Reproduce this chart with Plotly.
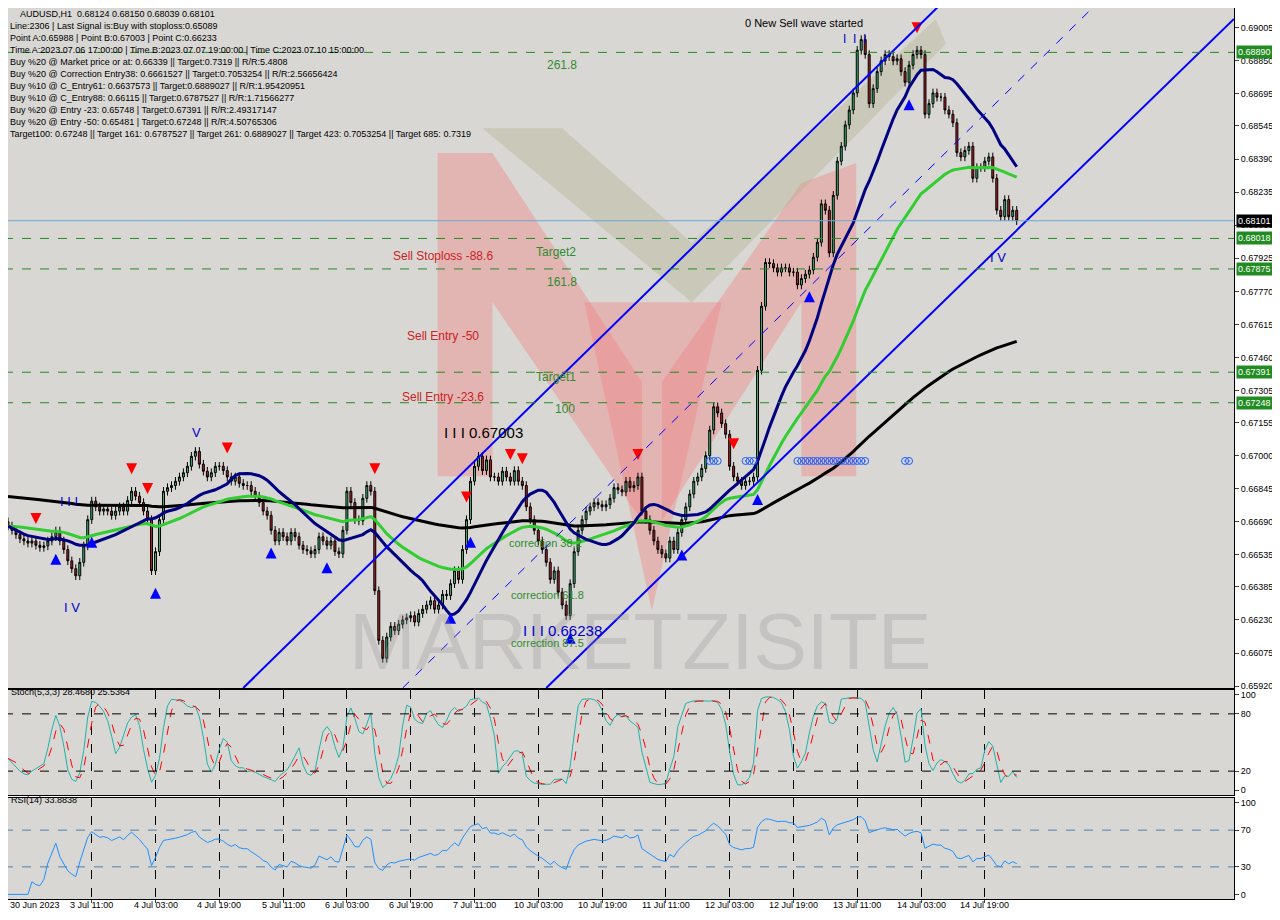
import numpy as np, pandas as pd
import plotly.graph_objects as go
from plotly.subplots import make_subplots

closes_k = [
66670,66650,66630,66610,66600,66590,66600,66580,66570,66577,
66600,66620,66647,66600,66560,66507,66470,66437,66500,66577,
66700,66787,66760,66740,66750,66740,66720,66740,66760,66740,
66790,66833,66810,66780,66740,66700,66461,66550,66700,66833,
66850,66860,66880,66900,66920,66950,66997,67020,66960,66927,
66900,66920,66950,66950,66930,66900,66880,66900,66870,66860,
66860,66833,66810,66780,66740,66720,66650,66600,66640,66620,
66600,66640,66620,66580,66560,66554,66540,66560,66620,66600,
66580,66600,66550,66540,66650,66833,66780,66700,66694,66800,
66860,66833,66367,66134,66050,66150,66200,66180,66210,66230,
66240,66250,66220,66260,66280,66300,66320,66280,66300,66350,
66344,66400,66461,66420,66560,66700,66880,66950,66997,66930,
66980,66900,66900,66880,66927,66900,66880,66930,66880,66860,
66760,66700,66650,66600,66560,66500,66420,66460,66360,66300,
66250,66400,66550,66650,66700,66740,66760,66780,66770,66760,
66770,66800,66850,66840,66830,66880,66850,66860,66900,66740,
66700,66650,66600,66560,66540,66520,66600,66560,66640,66700,
66760,66820,66880,66900,66940,67000,67120,67229,67200,67150,
67100,66950,66900,66880,66860,66880,66880,66900,67400,67700,
67905,67900,67880,67860,67880,67880,67860,67860,67800,67830,
67850,67870,67930,68000,68180,68150,67950,68220,68380,68450,
68550,68620,68700,68900,68950,68880,68650,68720,68800,68850,
68880,68870,68850,68860,68800,68750,68830,68880,68900,68880,
68600,68650,68700,68680,68680,68620,68600,68560,68420,68400,
68430,68450,68300,68350,68350,68380,68400,68300,68150,68120,
68200,68120,68150,68101]
first_open = 0.66690
wick = 0.00020
ma_seed = 0.66810

close = np.array(closes_k) / 1e5
opn = np.concatenate([[first_open], close[:-1]])
high = np.maximum(opn, close) + wick
low = np.minimum(opn, close) - wick
n = len(close)
idx = np.arange(n)

tick_idx = [0, 21, 37, 53, 69, 85, 101, 117, 133, 149, 165, 181, 197, 213, 229, 245]
tick_txt = ["30 Jun 2023", "3 Jul 11:00", "4 Jul 03:00", "4 Jul 19:00", "5 Jul 11:00", "6 Jul 03:00",
            "6 Jul 19:00", "7 Jul 11:00", "10 Jul 03:00", "10 Jul 19:00", "11 Jul 11:00", "12 Jul 03:00",
            "12 Jul 19:00", "13 Jul 11:00", "14 Jul 03:00", "14 Jul 19:00"]
price_ticks = [0.69005, 0.68850, 0.68695, 0.68545, 0.68390, 0.68235, 0.68080, 0.67925, 0.67770, 0.67615,
               0.67460, 0.67305, 0.67155, 0.67000, 0.66845, 0.66690, 0.66535, 0.66385, 0.66230, 0.66075, 0.65920]
levels = [0.68890, 0.68018, 0.67875, 0.67391, 0.67248]
last_price = 0.68101

s = pd.Series(close)
navy = s.rolling(20, min_periods=1).mean()
green = s.ewm(span=50, adjust=False).mean()
black = pd.Series(np.concatenate([[ma_seed], close])).ewm(span=200, adjust=False).mean().iloc[1:].values
hh = pd.Series(high).rolling(5, min_periods=1).max(); ll = pd.Series(low).rolling(5, min_periods=1).min()
k = 100 * (s - ll).rolling(3, min_periods=1).sum() / (hh - ll).rolling(3, min_periods=1).sum()
d = k.rolling(3, min_periods=1).mean()
delta = s.diff().fillna(0)
up = delta.clip(lower=0).ewm(alpha=1/14, adjust=False).mean()
dn = (-delta.clip(upper=0)).ewm(alpha=1/14, adjust=False).mean()
rsi = 100 - 100 / (1 + up / dn.replace(0, 1e-9))

W, H, OFF = 1264, 904, 8
def fx(px): return (px - OFF) / W
def fy(py): return min(1.0, max(0.0, 1 - (py - OFF) / H))

X0, X1 = -1, 307.5
Y0, Y1 = 0.65911, 0.69098
def P(px, py):
    return (px - 4) / 4, 0.69005 - (py - 24) * 4.66e-5
def poly(pts):
    c = [P(a, b) for a, b in pts]
    return "M " + " L ".join(f"{x:.2f} {y:.5f}" for x, y in c) + " Z"

fig = make_subplots(rows=3, cols=1, shared_xaxes=True)
fig.add_trace(go.Candlestick(x=idx, open=opn, high=high, low=low, close=close,
    increasing=dict(line=dict(color="#000000", width=1), fillcolor="#3cb371"),
    decreasing=dict(line=dict(color="#000000", width=1), fillcolor="#b22222"),
    whiskerwidth=0, showlegend=False), 1, 1)
fig.add_trace(go.Scatter(x=idx, y=black, mode="lines", line=dict(color="#000000", width=3)), 1, 1)
fig.add_trace(go.Scatter(x=idx, y=green, mode="lines", line=dict(color="#32cd32", width=3)), 1, 1)
fig.add_trace(go.Scatter(x=idx, y=navy, mode="lines", line=dict(color="#000080", width=3)), 1, 1)
fig.add_trace(go.Scatter(x=idx, y=k, mode="lines", line=dict(color="#20b2aa", width=1)), 2, 1)
fig.add_trace(go.Scatter(x=idx, y=d, mode="lines", line=dict(color="#ff0000", width=1, dash="dash")), 2, 1)
fig.add_trace(go.Scatter(x=idx, y=rsi, mode="lines", line=dict(color="#1e90ff", width=1)), 3, 1)

fig.update_layout(width=W, height=H, margin=dict(l=0, r=0, t=0, b=0, autoexpand=False),
    paper_bgcolor="#ffffff", plot_bgcolor="#d9d7d4", showlegend=False,
    font=dict(family="Liberation Sans, Arial", size=10, color="#000"))
for r, dom in [(1, [fy(688), fy(4)]), (2, [fy(795), fy(690)]), (3, [fy(899), fy(798)])]:
    fig.update_yaxes(row=r, col=1, domain=dom, side="right", showgrid=False, zeroline=False, automargin=False,
                     showline=True, linecolor="#000", mirror=True, ticks="outside", ticklen=4,
                     tickfont=dict(size=9))
    fig.update_xaxes(row=r, col=1, domain=[fx(8), fx(1234)], range=[X0 + 1, X1], showline=True, linecolor="#000",
                     mirror=True, rangeslider=dict(visible=False), zeroline=False, automargin=False,
                     tickvals=tick_idx[1:], showticklabels=False,
                     showgrid=(r != 1), griddash="dash", gridcolor="#000", gridwidth=1,
                     ticks=("outside" if r == 3 else ""), ticklen=3)
fig.update_yaxes(row=1, col=1, range=[Y0, Y1], tickvals=price_ticks, ticktext=[f"{v:.5f}" for v in price_ticks])
fig.update_yaxes(row=2, col=1, range=[-5, 105], tickvals=[0, 20, 80, 100])
fig.update_yaxes(row=3, col=1, range=[-5, 105], tickvals=[0, 30, 70, 100])
for ti, tt in zip(tick_idx, tick_txt):
    fig.add_annotation(x=ti, xref="x3", y=0, yref="paper", yanchor="bottom", xanchor=("left" if ti == 0 else "center"),
                       text=tt, showarrow=False, font=dict(size=9))

pink = "rgba(240,130,130,0.40)"
fig.add_shape(type="path", path=poly([(435, 150), (490, 150), (640, 380), (640, 520), (490, 300), (490, 475), (435, 475)]),
              fillcolor=pink, line_width=0, layer="below")
fig.add_shape(type="path", path=poly([(582, 300), (720, 300), (650, 610)]), fillcolor=pink, line_width=0, layer="below")
fig.add_shape(type="path", path=poly([(855, 160), (855, 475), (800, 475), (800, 300), (660, 520), (660, 380), (800, 180)]),
              fillcolor=pink, line_width=0, layer="below")
fig.add_shape(type="path", path=poly([(480, 125), (560, 125), (690, 240), (935, 15), (945, 40), (690, 300)]),
              fillcolor="rgba(175,175,135,0.35)", line_width=0, layer="below")
fig.add_annotation(x=fx(640), y=fy(688), xref="paper", yref="paper", yanchor="bottom", text="MARKETZISITE", showarrow=False,
                   font=dict(size=80, color="rgba(150,150,150,0.30)", family="Liberation Sans"))

fig.add_shape(type="line", x0=59, y0=0.65911, x1=234, y1=0.69117, line=dict(color="#0000ff", width=2))
fig.add_shape(type="line", x0=135, y0=0.65911, x1=307.5, y1=0.69047, line=dict(color="#0000ff", width=2))
fig.add_shape(type="line", x0=99, y0=0.65911, x1=273, y1=0.69117, line=dict(color="#0000ff", width=1, dash="dash"))
for lv in levels:
    fig.add_shape(type="line", x0=X0, x1=X1, y0=lv, y1=lv, line=dict(color="#228b22", width=1, dash="dash"))
    fig.add_annotation(x=fx(1236), y=lv, xref="paper", yref="y", xanchor="left", text=f"{lv:.5f}", showarrow=False,
                       bgcolor="#228b22", font=dict(color="#ffffff", size=9), borderpad=1)
fig.add_shape(type="line", x0=X0, x1=X1, y0=last_price, y1=last_price, line=dict(color="#6aa8d8", width=1))
fig.add_annotation(x=fx(1236), y=last_price, xref="paper", yref="y", xanchor="left", text=f"{last_price:.5f}", showarrow=False,
                   bgcolor="#000000", font=dict(color="#ffffff", size=9), borderpad=1)
for lv in [80, 20]:
    fig.add_shape(type="line", x0=X0, x1=X1, y0=lv, y1=lv, line=dict(color="#000", width=1, dash="dash"), xref="x", yref="y2")
for lv in [70, 30]:
    fig.add_shape(type="line", x0=X0, x1=X1, y0=lv, y1=lv, line=dict(color="#4682b4", width=1, dash="dash"), xref="x", yref="y3")

red_i = [7, 31, 35, 55, 92, 115, 126, 129, 158, 182, 228]
blue_i = [12, 21, 37, 66, 80, 111, 116, 141, 169, 188, 201, 226]
fig.add_trace(go.Scatter(x=red_i, y=high[red_i] + 0.0006, mode="markers",
    marker=dict(symbol="arrow-down", size=11, color="#ff0000")), 1, 1)
fig.add_trace(go.Scatter(x=blue_i, y=low[blue_i] - 0.0006, mode="markers",
    marker=dict(symbol="arrow-up", size=11, color="#0000ff")), 1, 1)
circ_i = [176, 177, 178, 185, 186, 187] + list(range(198, 216)) + [225, 226]
fig.add_trace(go.Scatter(x=circ_i, y=[0.66975] * len(circ_i), mode="markers",
    marker=dict(symbol="circle-dot", size=7, color="rgba(0,0,0,0)", line=dict(color="#1e5eff", width=1))), 1, 1)

header = ["AUDUSD,H1  0.68124 0.68150 0.68039 0.68101",
 "Line:2306 | Last Signal is:Buy with stoploss:0.65089",
 "Point A:0.65988 | Point B:0.67003 | Point C:0.66233",
 "Time A:2023.07.06 17:00:00 | Time B:2023.07.07 19:00:00 | Time C:2023.07.10 15:00:00",
 "Buy %20 @ Market price or at: 0.66339 || Target:0.7319 || R/R:5.4808",
 "Buy %20 @ Correction Entry38: 0.6661527 || Target:0.7053254 || R/R:2.56656424",
 "Buy %10 @ C_Entry61: 0.6637573 || Target:0.6889027 || R/R:1.95420951",
 "Buy %10 @ C_Entry88: 0.66115 || Target:0.6787527 || R/R:1.71566277",
 "Buy %20 @ Entry -23: 0.65748 | Target:0.67391 || R/R:2.49317147",
 "Buy %20 @ Entry -50: 0.65481 | Target:0.67248 || R/R:4.50765306",
 "Target100: 0.67248 || Target 161: 0.6787527 || Target 261: 0.6889027 || Target 423: 0.7053254 || Target 685: 0.7319"]
for j, t in enumerate(header):
    fig.add_annotation(x=fx(18 if j == 0 else 8), y=fy(14 + 12 * j), xref="paper", yref="paper",
                       xanchor="left", yanchor="middle", text=t, showarrow=False, font=dict(size=9, color="#000"))

def lab(px, py, t, c, sz=12):
    fig.add_annotation(x=fx(px), y=fy(py), xref="paper", yref="paper", text=t, showarrow=False,
                       font=dict(size=sz, color=c))
lab(865, 15, "0 New Sell wave started", "#000", 11)
lab(868, 30, "I  I  I", "#0000cc", 12)
lab(562, 56, "261.8", "#2e8b2e")
lab(556, 243, "Target2", "#2e8b2e")
lab(562, 273, "161.8", "#2e8b2e")
lab(443, 247, "Sell Stoploss -88.6", "#cc2222")
lab(443, 336, "Sell Entry -50", "#cc2222")
lab(556, 377, "Target1", "#2e8b2e")
lab(443, 397, "Sell Entry -23.6", "#cc2222")
lab(565, 409, "100", "#2e8b2e")
lab(483, 432, "I I I 0.67003", "#000", 15)
lab(545, 543, "correction 38.2", "#2e8b2e", 11)
lab(547, 595, "correction 61.8", "#2e8b2e", 11)
lab(562, 641, "I I I 0.66238", "#0000cc", 15)
lab(547, 651, "correction 87.5", "#2e8b2e", 11)
lab(62, 607, "I V", "#0000cc", 13)
lab(58, 501, "I I I", "#0000cc", 13)
lab(190, 432, "V", "#0000cc", 13)
lab(1008, 248, "I V", "#0000cc", 13)
fig.add_annotation(x=fx(9), y=fy(699), xref="paper", yref="paper", xanchor="left", text="Stoch(5,3,3) 28.4680 25.5364",
                   showarrow=False, font=dict(size=9))
fig.add_annotation(x=fx(9), y=fy(807), xref="paper", yref="paper", xanchor="left", text="RSI(14) 33.8838",
                   showarrow=False, font=dict(size=9))
fig.write_html("out.html")
